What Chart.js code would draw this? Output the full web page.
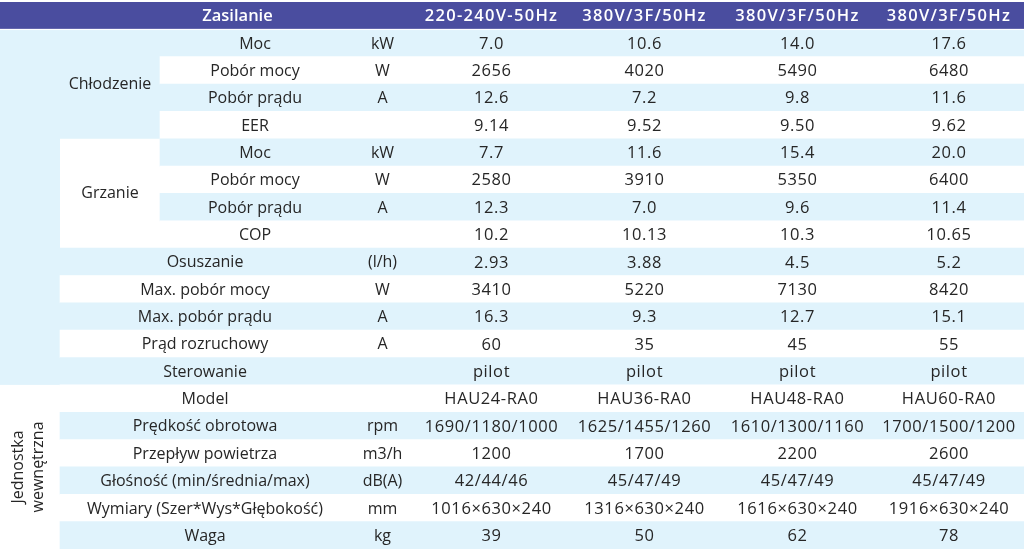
<!DOCTYPE html>
<html>
<head>
<meta charset="utf-8">
<script src="https://cdn.jsdelivr.net/npm/chart.js@4.4.1/dist/chart.umd.min.js"></script>
<style>
html, body { margin: 0; padding: 0; background: #fff; }
#wrap { width: 1024px; height: 549px; position: relative; }
</style>
</head>
<body>
<div id="wrap"><canvas id="myChart"></canvas></div>
<script>
// naglowki
var headTitle = 'Zasilanie';
var supply = ['220-240V-50Hz', '380V/3F/50Hz', '380V/3F/50Hz', '380V/3F/50Hz'];
var groups = ['Chłodzenie', 'Grzanie'];
var indoorUnit = ['Jednostka', 'wewnętrzna'];

var rowLabels = ['Moc', 'Pobór mocy', 'Pobór prądu', 'EER',
    'Moc', 'Pobór mocy', 'Pobór prądu', 'COP',
    'Osuszanie', 'Max. pobór mocy', 'Max. pobór prądu', 'Prąd rozruchowy', 'Sterowanie',
    'Model', 'Prędkość obrotowa', 'Przepływ powietrza', 'Głośność (min/średnia/max)',
    'Wymiary (Szer*Wys*Głębokość)', 'Waga'];
var units = ['kW', 'W', 'A', '', 'kW', 'W', 'A', '', '(l/h)', 'W', 'A', 'A', '',
    '', 'rpm', 'm3/h', 'dB(A)', 'mm', 'kg'];

var hau24 = ['7.0', '2656', '12.6', '9.14', '7.7', '2580', '12.3', '10.2', '2.93', '3410', '16.3', '60', 'pilot',
    'HAU24-RA0', '1690/1180/1000', '1200', '42/44/46', '1016×630×240', '39'];
var hau36 = ['10.6', '4020', '7.2', '9.52', '11.6', '3910', '7.0', '10.13', '3.88', '5220', '9.3', '35', 'pilot',
    'HAU36-RA0', '1625/1455/1260', '1700', '45/47/49', '1316×630×240', '50'];
var hau48 = ['14.0', '5490', '9.8', '9.50', '15.4', '5350', '9.6', '10.3', '4.5', '7130', '12.7', '45', 'pilot',
    'HAU48-RA0', '1610/1300/1160', '2200', '45/47/49', '1616×630×240', '62'];
var hau60 = ['17.6', '6480', '11.6', '9.62', '20.0', '6400', '11.4', '10.65', '5.2', '8420', '15.1', '55', 'pilot',
    'HAU60-RA0', '1700/1500/1200', '2600', '45/47/49', '1916×630×240', '78'];

// ktore wiersze naleza do grup (pierwszy, ostatni)
var groupRows = [[0, 3], [4, 7]];
var indoorRows = [13, 18];
var models = [hau24, hau36, hau48, hau60];

// uklad kolumn (jednostki osi x)
var edges = [0, 60, 160, 350, 415, 568, 721, 874, 1024];
var headColor = '#4a4d9f';
var blue = '#e0f3fc';
var ink = '#262626';
var font = '"Open Sans", sans-serif';

var barData = [[edges[0], edges[8]]];
var barColors = [headColor];
for (var i = 0; i < rowLabels.length; i++) {
    var start = i <= groupRows[1][1] ? edges[2] : edges[1];
    barData.push([start, edges[8]]);
    barColors.push(i % 2 == 0 ? blue : '#ffffff');
}

function mid(a, b) { return (edges[a] + edges[b]) / 2; }

var tablePlugin = {
    id: 'tablePlugin',
    beforeDatasetsDraw: function (chart) {
        var ctx = chart.ctx, x = chart.scales.x, y = chart.scales.y;
        var half = (y.getPixelForValue(1) - y.getPixelForValue(0)) / 2;
        var top = function (r) { return y.getPixelForValue(r + 1) - half; };
        var bot = function (r) { return y.getPixelForValue(r + 1) + half; };
        ctx.save();
        ctx.fillStyle = blue;
        // lewa kolumna do wiersza Sterowanie
        ctx.fillRect(x.getPixelForValue(edges[0]), top(0), x.getPixelForValue(edges[1]) - x.getPixelForValue(edges[0]), bot(12) - top(0));
        // Chlodzenie
        ctx.fillRect(x.getPixelForValue(edges[1]), top(groupRows[0][0]), x.getPixelForValue(edges[2]) - x.getPixelForValue(edges[1]), bot(groupRows[0][1]) - top(groupRows[0][0]));
        ctx.restore();
    },
    afterDatasetsDraw: function (chart) {
        var ctx = chart.ctx, x = chart.scales.x, y = chart.scales.y;
        var half = (y.getPixelForValue(1) - y.getPixelForValue(0)) / 2;
        ctx.save();
        // biala linia pod naglowkiem
        ctx.fillStyle = '#ffffff';
        ctx.fillRect(0, y.getPixelForValue(0) + half - 0.5, chart.width, 1.2);

        ctx.textAlign = 'center';
        ctx.textBaseline = 'middle';
        ctx.fillStyle = '#ffffff';
        ctx.font = '600 16.5px ' + font;
        var hy = y.getPixelForValue(0) + 1;
        ctx.fillText(headTitle, x.getPixelForValue(mid(1, 4)), hy);
        ctx.letterSpacing = '1.3px';
        supply.forEach(function (s, c) {
            ctx.fillText(s, x.getPixelForValue(mid(4 + c, 5 + c)), hy);
        });

        ctx.fillStyle = ink;
        rowLabels.forEach(function (lab, r) {
            var py = y.getPixelForValue(r + 1) + 1;
            var lx = r <= groupRows[1][1] ? mid(2, 3) : mid(1, 3);
            ctx.letterSpacing = '0px';
            ctx.font = '16px ' + font;
            ctx.fillText(lab, x.getPixelForValue(lx), py);
            if (units[r]) ctx.fillText(units[r], x.getPixelForValue(mid(3, 4)), py);
            ctx.letterSpacing = '0.6px';
            ctx.font = '16.5px ' + font;
            models.forEach(function (m, c) {
                ctx.fillText(m[r], x.getPixelForValue(mid(4 + c, 5 + c)), py);
            });
        });

        ctx.letterSpacing = '0px';
        ctx.font = '16px ' + font;
        groups.forEach(function (g, k) {
            var gy = (y.getPixelForValue(groupRows[k][0] + 1) + y.getPixelForValue(groupRows[k][1] + 1)) / 2;
            ctx.fillText(g, x.getPixelForValue(mid(1, 2)), gy);
        });

        // Jednostka wewnetrzna - tekst pionowy
        var iy = (y.getPixelForValue(indoorRows[0] + 1) + y.getPixelForValue(indoorRows[1] + 1)) / 2;
        ctx.translate(x.getPixelForValue(mid(0, 1)) - 2, iy);
        ctx.rotate(-Math.PI / 2);
        ctx.fillText(indoorUnit[0], 0, -10);
        ctx.fillText(indoorUnit[1], 0, 10);
        ctx.restore();
    }
};

var ctx = document.getElementById('myChart').getContext('2d');
var myChart = new Chart(ctx, {
    type: 'bar',
    data: {
        labels: [headTitle].concat(rowLabels),
        datasets: [{
            label: 'wiersze',
            data: barData,
            backgroundColor: barColors,
            borderWidth: 0,
            barPercentage: 1,
            categoryPercentage: 1
        }]
    },
    options: {
        indexAxis: 'y',
        responsive: true,
        maintainAspectRatio: false,
        animation: false,
        layout: { padding: { top: 2, left: 0, right: 0, bottom: 0 } },
        plugins: { legend: { display: false }, tooltip: { enabled: false } },
        scales: {
            x: { type: 'linear', min: 0, max: 1024, display: false },
            y: { display: false }
        }
    },
    plugins: [tablePlugin]
});
</script>
</body>
</html>
